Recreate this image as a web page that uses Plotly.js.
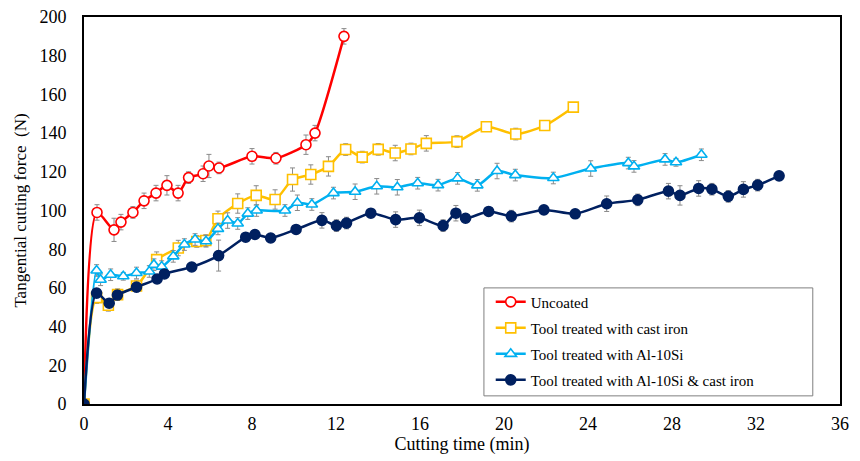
<!DOCTYPE html>
<html>
<head>
<meta charset="utf-8">
<script src="https://cdn.plot.ly/plotly-3.0.1.min.js"></script>
<style>html,body{margin:0;padding:0;background:#fff;}#chart{width:860px;height:461px;}</style>
</head>
<body>
<div id="chart"></div>
<script>
const seriesNames = ["Uncoated", "Tool treated with cast iron", "Tool treated with Al-10Si", "Tool treated with Al-10Si & cast iron"];

const uncoatedX = [0,0.62,1.43,1.76,2.33,2.86,3.43,3.95,4.48,4.98,5.67,5.95,6.43,8.0,9.14,10.57,11.0,12.38];
const uncoatedY = [0,99,90,94,99,105,109,113,109,117,119,123,122,128,127,134,140,190];
const uncoatedErr = [0,4,6,4,3,4,4,5,4,3,4,6,3,4,3,5,4,4];

const castIronX = [0,0.6,1.16,1.6,2.5,3.46,4.49,5.37,5.8,6.38,7.32,8.2,9.1,9.93,10.8,11.64,12.46,13.25,14.01,14.82,15.57,16.3,17.76,19.16,20.56,21.94,23.3];
const castIronY = [0,55,51,56.5,61,74.6,80.6,84,84.5,95.7,103.6,107.8,105.7,116,118.6,122.8,131.5,127.6,131.6,129.7,131.8,134.7,135.6,143.3,139.5,143.9,153.4];
const castIronErr = [0,3,3,3,3,4,4,3,3,4,5,5,5,6,5,5,3,3,3,4,3,4,3,2,3,2,2];

const alSiX = [0,0.6,0.79,1.27,1.87,2.5,3.11,3.33,3.7,4.25,4.78,5.29,5.81,6.38,6.84,7.32,7.8,8.22,9.57,10.16,10.85,11.88,12.91,13.94,14.92,15.89,16.86,17.79,18.73,19.67,20.54,22.35,24.13,25.92,26.19,27.67,28.19,29.4];
const alSiY = [0,69,64.2,66.8,66,67.7,68.5,72,71,76.3,82.4,85,84.1,90.5,94.8,93.3,98.4,100,100,104,103.1,109,109.7,112.5,112,114.1,113.1,116.6,113,120.4,118.3,116.8,121.7,124.5,122.8,126.4,124.9,128.8];
const alSiErr = [0,3,3,3,2,3,3,3,3,3,3,3,3,3,4,3,3,3,3,4,3,3,4,4,4,3,3,3,3,4,3,3,4,3,3,3,2,3];

const comboX = [0,0.6,1.2,1.59,2.5,3.48,3.83,5.13,6.41,7.7,8.14,8.89,10.1,11.33,12.02,12.5,13.66,14.84,15.97,17.1,17.71,18.17,19.27,20.35,21.9,23.39,24.89,26.37,27.83,28.38,29.27,29.9,30.68,31.4,32.08,33.1];
const comboY = [0,57.3,52.1,56.3,60.4,64.6,67.2,70.8,76.7,86.2,87.6,85.8,90.2,94.9,92.2,93.5,98.6,95.3,96.2,92.2,98.6,96,99.5,97.1,100.3,98.3,103.5,105.5,110,107.8,111.4,111,107.3,110.9,113.1,117.9];
const comboErr = [0,2,2,2,2,2,2,2,8,2,2,2,2,4,3,3,2,4,4,3,4,2,2,3,2,2,4,3,4,5,4,3,3,4,3,2];

const xTicks = [0,4,8,12,16,20,24,28,32,36];
const yTicks = [0,20,40,60,80,100,120,140,160,180,200];

function mk(name, x, y, err, color, symbol, filled, grp) {
  return {
    type: 'scatter', mode: 'lines+markers', name: name, x: x, y: y,
    legendgroup: grp,
    line: {color: color, width: 2.5, shape: 'spline', smoothing: 0.7},
    marker: {symbol: symbol, size: 10, color: filled ? color : '#ffffff', line: {color: color, width: 1.6}},
    error_y: {type: 'data', array: err, visible: true, color: '#8a8a8a', thickness: 1, width: 2.5},
    hoverinfo: 'skip'
  };
}

const data = [
  mk(seriesNames[0], uncoatedX, uncoatedY, uncoatedErr, '#ff0000', 'circle', false, 'a'),
  mk(seriesNames[1], castIronX, castIronY, castIronErr, '#ffc000', 'square', false, 'b'),
  mk(seriesNames[2], alSiX, alSiY, alSiErr, '#00b0f0', 'triangle-up', false, 'c'),
  mk(seriesNames[3], comboX, comboY, comboErr, '#002060', 'circle', true, 'd')
];

const font = {family: '"Liberation Serif", "Times New Roman", serif', color: '#000'};

const layout = {
  width: 860, height: 461,
  margin: {l: 84, r: 20, t: 17, b: 57},
  paper_bgcolor: '#ffffff', plot_bgcolor: '#ffffff',
  font: Object.assign({size: 18}, font),
  showlegend: true,
  legend: {
    x: 0.538, y: 0.306, xanchor: 'left', yanchor: 'top',
    bgcolor: 'rgba(0,0,0,0)', borderwidth: 0,
    font: Object.assign({size: 15}, font),
    itemwidth: 30, tracegroupgap: 3.5
  },
  shapes: [{
    type: 'rect', xref: 'paper', yref: 'paper',
    x0: 0.529, x1: 0.964, y0: 0.021, y1: 0.30,
    line: {color: '#7f7f7f', width: 1}, fillcolor: '#ffffff', layer: 'below'
  }],
  xaxis: {
    range: [0, 36], tickvals: xTicks, ticktext: xTicks.map(String),
    showgrid: false, zeroline: false, showline: true, linecolor: '#000', linewidth: 2, mirror: true,
    ticks: '', ticklabelstandoff: 2, tickfont: Object.assign({size: 18}, font),
    title: {text: 'Cutting time (min)', font: Object.assign({size: 18}, font), standoff: 5}
  },
  yaxis: {
    range: [0, 200], tickvals: yTicks, ticktext: yTicks.map(String),
    showgrid: false, zeroline: false, showline: true, linecolor: '#000', linewidth: 2, mirror: true,
    ticks: '', ticklabelstandoff: 12, tickfont: Object.assign({size: 18}, font),
    title: {text: 'Tangential cutting force  (N)', font: Object.assign({size: 17}, font), standoff: 8}
  }
};

Plotly.newPlot('chart', data, layout, {staticPlot: true, displayModeBar: false});
</script>
</body>
</html>
